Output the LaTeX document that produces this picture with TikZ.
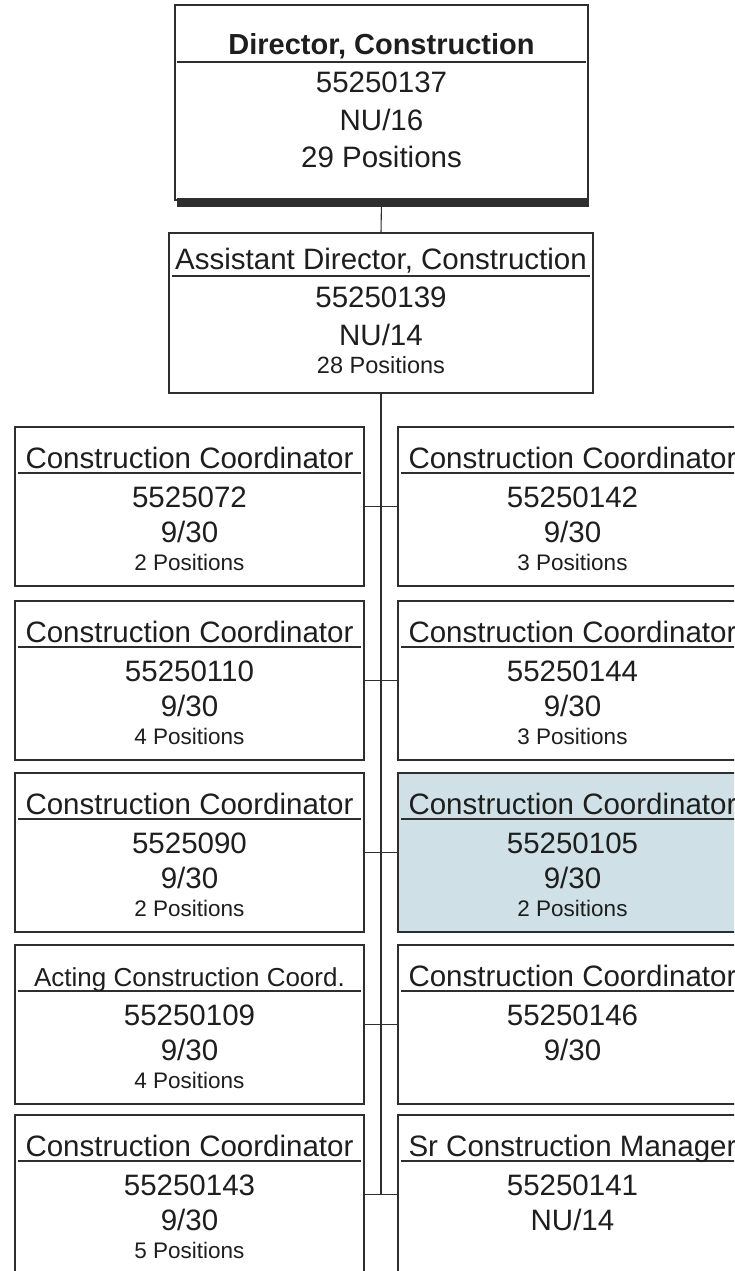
\documentclass[tikz,border=0pt]{standalone}
\usepackage{fontspec}
\setmainfont{Liberation Sans}
\definecolor{linec}{HTML}{2E2E2E}
\definecolor{textc}{HTML}{1E1E1E}
\definecolor{boxblue}{HTML}{CFE1E7}
\newcommand\boxtexts[7]{%
  \node[txt,big] (#1a) at (#2,#3+41) {#4};
  \node[txt,big] (#1b) at (#2,#3+80) {#5};
  \node[txt,big] (#1c) at (#2,#3+115) {#6};
  \node[txt,small] (#1d) at (#2,#3+143) {#7};
}
\newcommand\boxtextsthree[6]{%
  \node[txt,big] (#1a) at (#2,#3+41) {#4};
  \node[txt,big] (#1b) at (#2,#3+80) {#5};
  \node[txt,big] (#1c) at (#2,#3+115) {#6};
}
\begin{document}
\begin{tikzpicture}[x=1pt,y=-1pt,
  box/.style={draw=linec, line width=1.4pt, inner sep=0pt, outer sep=0pt, rectangle},
  rowbox/.style={box, minimum width=349pt, minimum height=159pt},
  conn/.style={draw=linec, line width=1.1pt},
  uline/.style={draw=linec, line width=1.4pt},
  big/.style={font=\fontsize{29.5}{29}\selectfont},
  mid/.style={font=\fontsize{23.5}{24}\selectfont},
  small/.style={font=\fontsize{22.5}{22}\selectfont},
  txt/.style={inner sep=0pt, anchor=base, text=textc}]
\useasboundingbox (0,0) rectangle (734,1271);
\fill[white] (0,0) rectangle (734,1271);
\clip (0,0) rectangle (734,1271);

% Director box
\node[box, minimum width=413pt, minimum height=195pt] (dir) at (381.5,102.5) {};
\fill[linec] ([xshift=2pt,yshift=-7pt]dir.south west) rectangle ([xshift=1pt,yshift=2pt]dir.south east);
\node[txt, font=\fontsize{29}{29}\selectfont\bfseries] (dirt) at (381.5,55) {Director, Construction};
\draw[uline] (177,62) -- (586,62);
\node[txt,big] (dirn) at (381.5,93) {55250137};
\node[txt,big] (dirg) at (381.5,131) {NU/16};
\node[txt,big] (dirp) at (381.5,167) {29 Positions};

% Assistant director box
\node[box, minimum width=424pt, minimum height=160pt] (asst) at (381,313) {};
\node[txt,big] (asstt) at (381,269) {Assistant Director, Construction};
\draw[uline] (172,276) -- (590,276);
\node[txt,big] (asstn) at (381,307) {55250139};
\node[txt,big] (asstg) at (381,345) {NU/14};
\node[txt,mid] (asstp) at (381,373) {28 Positions};

\draw[conn] (dir.south) -- (asst.north);

% shaded box background
\fill[boxblue] (398,773) rectangle (747,932);

% rows
\foreach \i/\t in {1/427,2/601,3/773,4/945,5/1115} {
  \node[rowbox] (L\i) at (189.5,\t+79.5) {};
  \node[rowbox] (R\i) at (572.5,\t+79.5) {};
  \draw[conn] (L\i.east) -- (R\i.west);
  \draw[uline] (18,\t+46) -- (361,\t+46);
  \draw[uline] (401,\t+46) -- (744,\t+46);
}
\draw[conn] (asst.south) -- (asst.south |- L5.east);

\boxtexts{l1}{189.5}{427}{Construction Coordinator}{5525072}{9/30}{2 Positions}
\boxtexts{l2}{189.5}{601}{Construction Coordinator}{55250110}{9/30}{4 Positions}
\boxtexts{l3}{189.5}{773}{Construction Coordinator}{5525090}{9/30}{2 Positions}
\boxtexts{l4}{189.5}{945}{\fontsize{26}{26}\selectfont Acting Construction Coord.}{55250109}{9/30}{4 Positions}
\boxtexts{l5}{189.5}{1115}{Construction Coordinator}{55250143}{9/30}{5 Positions}

\boxtexts{r1}{572.5}{427}{Construction Coordinator}{55250142}{9/30}{3 Positions}
\boxtexts{r2}{572.5}{601}{Construction Coordinator}{55250144}{9/30}{3 Positions}
\boxtexts{r3}{572.5}{773}{Construction Coordinator}{55250105}{9/30}{2 Positions}
\boxtextsthree{r4}{572.5}{945}{Construction Coordinator}{55250146}{9/30}
\boxtextsthree{r5}{572.5}{1115}{Sr Construction Manager}{55250141}{NU/14}
\end{tikzpicture}
\end{document}
